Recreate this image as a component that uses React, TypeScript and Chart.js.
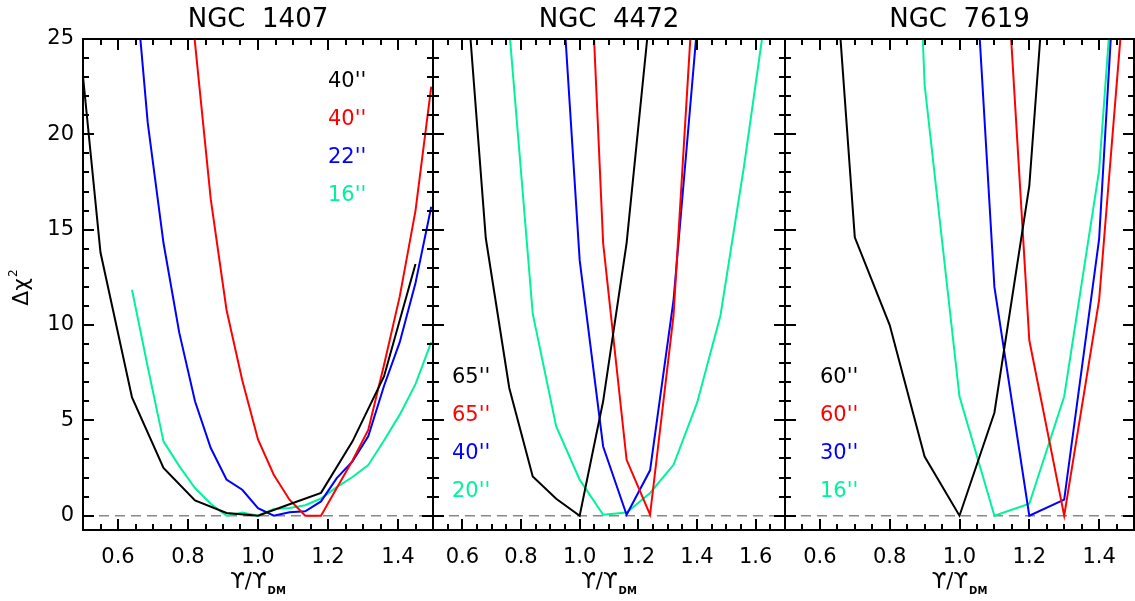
import React, { useEffect, useRef } from "react";
import { Chart, registerables } from "chart.js";

Chart.register(...registerables);

const FONT = "'DejaVu Sans', 'Liberation Sans', sans-serif";
const BLACK = "#000000";
const RED = "#ff0000";
const BLUE = "#0000ff";
const GREEN = "#00f29a";
const SERIES_COLORS = [BLACK, RED, BLUE, GREEN];

// ---------- NGC 1407 ----------
const n1407BlackX = [0.46, 0.55, 0.64, 0.73, 0.82, 0.91, 1.0, 1.09, 1.18, 1.27, 1.36, 1.45];
const n1407BlackY = [30.4, 13.8, 6.2, 2.5, 0.8, 0.14, 0.0, 0.6, 1.2, 3.9, 7.3, 13.2];
const n1407RedX = [0.775, 0.82, 0.865, 0.91, 0.955, 1.0, 1.045, 1.09, 1.135, 1.18, 1.225, 1.27, 1.315, 1.36, 1.405, 1.45, 1.495];
const n1407RedY = [33.0, 24.8, 16.6, 10.8, 7.1, 4.0, 2.15, 0.84, 0.0, 0.0, 1.45, 2.9, 4.5, 7.9, 11.5, 16.0, 22.5];
const n1407BlueX = [0.64, 0.685, 0.73, 0.775, 0.82, 0.865, 0.91, 0.955, 1.0, 1.045, 1.09, 1.135, 1.18, 1.225, 1.27, 1.315, 1.36, 1.405, 1.45, 1.495];
const n1407BlueY = [30.0, 20.6, 14.3, 9.6, 6.0, 3.55, 1.9, 1.36, 0.4, 0.0, 0.18, 0.23, 0.75, 1.97, 2.85, 4.16, 6.8, 9.1, 12.2, 16.2];
const n1407GreenX = [0.64, 0.685, 0.73, 0.775, 0.82, 0.865, 0.91, 0.955, 1.0, 1.045, 1.09, 1.135, 1.18, 1.225, 1.27, 1.315, 1.36, 1.405, 1.45, 1.495];
const n1407GreenY = [11.85, 7.8, 3.9, 2.6, 1.45, 0.63, 0.0, 0.17, 0.0, 0.35, 0.4, 0.55, 0.9, 1.5, 2.03, 2.65, 3.94, 5.3, 6.9, 9.1];
const n1407Labels = ["40''", "40''", "22''", "16''"];

// ---------- NGC 4472 ----------
const n4472BlackX = [0.6, 0.68, 0.76, 0.84, 0.92, 1.0, 1.08, 1.16, 1.24];
const n4472BlackY = [30.6, 14.55, 6.7, 2.06, 0.89, 0.0, 6.0, 14.3, 26.5];
const n4472RedX = [1.0, 1.08, 1.16, 1.24, 1.32, 1.4];
const n4472RedY = [42.0, 14.3, 2.93, 0.05, 10.5, 30.8];
const n4472BlueX = [0.92, 1.0, 1.08, 1.16, 1.24, 1.32, 1.4];
const n4472BlueY = [32.7, 13.4, 3.63, 0.05, 2.38, 11.3, 25.6];
const n4472GreenX = [0.76, 0.84, 0.92, 1.0, 1.08, 1.16, 1.24, 1.32, 1.4, 1.48, 1.56, 1.64];
const n4472GreenY = [25.5, 10.6, 4.68, 1.89, 0.05, 0.17, 1.19, 2.67, 5.9, 10.5, 18.3, 27.0];
const n4472Labels = ["65''", "65''", "40''", "20''"];

// ---------- NGC 7619 ----------
const n7619BlackX = [0.6, 0.7, 0.8, 0.9, 1.0, 1.1, 1.2, 1.3];
const n7619BlackY = [40.0, 14.6, 10.0, 3.1, 0.0, 5.4, 17.3, 42.0];
const n7619RedX = [1.1, 1.2, 1.3, 1.4, 1.5];
const n7619RedY = [39.6, 9.2, 0.0, 11.3, 33.8];
const n7619BlueX = [1.0, 1.1, 1.2, 1.3, 1.4, 1.5];
const n7619BlueY = [43.0, 12.0, 0.0, 0.84, 14.5, 46.0];
const n7619GreenX = [0.8, 0.9, 1.0, 1.1, 1.2, 1.3, 1.4, 1.5];
const n7619GreenY = [70.0, 22.6, 6.25, 0.0, 0.63, 6.25, 18.1, 43.0];
const n7619Labels = ["60''", "60''", "30''", "16''"];

// ---------- axes ----------
const titles = ["NGC  1407", "NGC  4472", "NGC  7619"];
const xTicks1 = [0.6, 0.8, 1.0, 1.2, 1.4];
const xTicks2 = [0.6, 0.8, 1.0, 1.2, 1.4, 1.6];
const xTicks3 = [0.6, 0.8, 1.0, 1.2, 1.4];
const yTicks = [0, 5, 10, 15, 20, 25];
const Y_MIN = -0.75;
const Y_MAX = 25;
const X_MINOR = 0.05;
const X_MAJOR = 0.2;
const Y_MINOR = 1;
const Y_MAJOR = 5;

const W = 1135;
const H = 601;
const PLOT_TOP = 39;
const PLOT_BOTTOM = 530;

type PanelCfg = {
  title: string;
  xMin: number;
  xMax: number;
  left: number;
  right: number;
  xTicks: number[];
  series: [number[], number[]][];
  labels: string[];
  labelX: number;
  labelBase: number;
  showY: boolean;
};

const panels: PanelCfg[] = [
  {
    title: titles[0], xMin: 0.5, xMax: 1.5, left: 83, right: 433, xTicks: xTicks1,
    series: [[n1407BlackX, n1407BlackY], [n1407RedX, n1407RedY], [n1407BlueX, n1407BlueY], [n1407GreenX, n1407GreenY]],
    labels: n1407Labels, labelX: 328, labelBase: 87, showY: true,
  },
  {
    title: titles[1], xMin: 0.5, xMax: 1.7, left: 433, right: 785, xTicks: xTicks2,
    series: [[n4472BlackX, n4472BlackY], [n4472RedX, n4472RedY], [n4472BlueX, n4472BlueY], [n4472GreenX, n4472GreenY]],
    labels: n4472Labels, labelX: 452, labelBase: 383, showY: false,
  },
  {
    title: titles[2], xMin: 0.5, xMax: 1.5, left: 785, right: 1134, xTicks: xTicks3,
    series: [[n7619BlackX, n7619BlackY], [n7619RedX, n7619RedY], [n7619BlueX, n7619BlueY], [n7619GreenX, n7619GreenY]],
    labels: n7619Labels, labelX: 820, labelBase: 383, showY: false,
  },
];

function makeDecor(p: PanelCfg) {
  return {
    id: "panelDecor",
    afterDraw(chart: any) {
      const { ctx, chartArea: a, scales } = chart;
      const x = scales.x;
      const y = scales.y;
      ctx.save();
      ctx.strokeStyle = "#000";
      ctx.lineWidth = 2;
      ctx.beginPath();
      const nx = Math.round((p.xMax - p.xMin) / X_MINOR);
      for (let i = 0; i <= nx; i++) {
        const v = p.xMin + i * X_MINOR;
        const r = v / X_MAJOR;
        const major = Math.abs(r - Math.round(r)) < 1e-6;
        const len = major ? 11 : 6;
        const px = Math.round(x.getPixelForValue(v));
        ctx.moveTo(px, a.bottom);
        ctx.lineTo(px, a.bottom - len);
        ctx.moveTo(px, a.top);
        ctx.lineTo(px, a.top + len);
      }
      for (let v = 0; v <= Y_MAX; v += Y_MINOR) {
        const major = v % Y_MAJOR === 0;
        const len = major ? 11 : 6;
        const py = Math.round(y.getPixelForValue(v));
        ctx.moveTo(a.left, py);
        ctx.lineTo(a.left + len, py);
        ctx.moveTo(a.right, py);
        ctx.lineTo(a.right - len, py);
      }
      ctx.stroke();
      ctx.strokeRect(a.left, a.top, a.right - a.left, a.bottom - a.top);

      const cx = (a.left + a.right) / 2;
      ctx.fillStyle = "#000";
      ctx.textBaseline = "alphabetic";
      ctx.textAlign = "center";
      ctx.font = `26px ${FONT}`;
      ctx.fillText(p.title, cx, 27);

      ctx.textAlign = "left";
      ctx.font = `21px ${FONT}`;
      p.labels.forEach((t, i) => {
        ctx.fillStyle = SERIES_COLORS[i];
        ctx.fillText(t, p.labelX, p.labelBase + i * 38);
      });

      // x axis title: ϒ/ϒ_DM
      ctx.fillStyle = "#000";
      const main = "\u03D2/\u03D2";
      const sub = "DM";
      ctx.font = `21px ${FONT}`;
      const mw = ctx.measureText(main).width;
      ctx.font = `bold 10px ${FONT}`;
      const sw = ctx.measureText(sub).width;
      const start = cx - (mw + sw + 1) / 2;
      ctx.font = `21px ${FONT}`;
      ctx.fillText(main, start, 588);
      ctx.font = `bold 10px ${FONT}`;
      ctx.fillText(sub, start + mw + 1, 594);

      if (p.showY) {
        ctx.save();
        ctx.translate(28, 288);
        ctx.rotate(-Math.PI / 2);
        ctx.font = `22px ${FONT}`;
        const t1 = "\u0394\u03C7";
        const w1 = ctx.measureText(t1).width;
        ctx.font = `12px ${FONT}`;
        const w2 = ctx.measureText("2").width;
        const s0 = -(w1 + w2) / 2;
        ctx.font = `22px ${FONT}`;
        ctx.fillText(t1, s0, 0);
        ctx.font = `12px ${FONT}`;
        ctx.fillText("2", s0 + w1 + 1, -11);
        ctx.restore();
      }
      ctx.restore();
    },
  };
}

function buildChart(canvas: HTMLCanvasElement, p: PanelCfg) {
  const datasets: any[] = p.series.map(([xs, ys], i) => ({
    data: xs.map((xv, k) => ({ x: xv, y: ys[k] })),
    borderColor: SERIES_COLORS[i],
    backgroundColor: SERIES_COLORS[i],
    borderWidth: 2,
    pointRadius: 0,
    tension: 0,
    fill: false,
  }));
  datasets.push({
    data: [{ x: p.xMin, y: 0 }, { x: p.xMax, y: 0 }],
    borderColor: "#888888",
    borderWidth: 1.5,
    borderDash: [10, 6],
    pointRadius: 0,
    fill: false,
  });
  const yAxisWidth = p.showY ? p.left : 0;
  return new Chart(canvas, {
    type: "line",
    data: { datasets },
    plugins: [makeDecor(p)],
    options: {
      animation: false,
      responsive: false,
      devicePixelRatio: 1,
      events: [],
      layout: { padding: { left: p.left - yAxisWidth, right: W - p.right, top: PLOT_TOP, bottom: 0 } },
      plugins: { legend: { display: false }, title: { display: false }, tooltip: { enabled: false } },
      scales: {
        x: {
          type: "linear",
          min: p.xMin,
          max: p.xMax,
          afterBuildTicks: (s: any) => { s.ticks = p.xTicks.map((v) => ({ value: v })); },
          afterFit: (s: any) => { s.height = H - PLOT_BOTTOM; },
          grid: { display: false, drawTicks: false },
          border: { display: false },
          ticks: {
            autoSkip: false,
            maxRotation: 0,
            padding: 15,
            color: "#000",
            font: { family: FONT, size: 21 },
            callback: (v: any) => Number(v).toFixed(1),
          },
        },
        y: {
          type: "linear",
          min: Y_MIN,
          max: Y_MAX,
          afterBuildTicks: (s: any) => { s.ticks = yTicks.map((v) => ({ value: v })); },
          afterFit: (s: any) => { s.width = yAxisWidth; },
          grid: { display: false, drawTicks: false },
          border: { display: false },
          ticks: {
            display: p.showY,
            autoSkip: false,
            padding: 9,
            color: "#000",
            font: { family: FONT, size: 21 },
            callback: (v: any) => String(v),
          },
        },
      },
    } as any,
  });
}

export default function App() {
  const r1 = useRef<HTMLCanvasElement>(null);
  const r2 = useRef<HTMLCanvasElement>(null);
  const r3 = useRef<HTMLCanvasElement>(null);
  useEffect(() => {
    const refs = [r1, r2, r3];
    const charts = panels.map((p, i) => buildChart(refs[i].current as HTMLCanvasElement, p));
    return () => charts.forEach((c) => c.destroy());
  }, []);
  const style: React.CSSProperties = { position: "absolute", left: 0, top: 0, width: W, height: H };
  return (
    <div style={{ position: "fixed", left: 0, top: 0, width: W, height: H, background: "#fff", overflow: "hidden" }}>
      <canvas ref={r1} width={W} height={H} style={style} />
      <canvas ref={r2} width={W} height={H} style={style} />
      <canvas ref={r3} width={W} height={H} style={style} />
    </div>
  );
}
